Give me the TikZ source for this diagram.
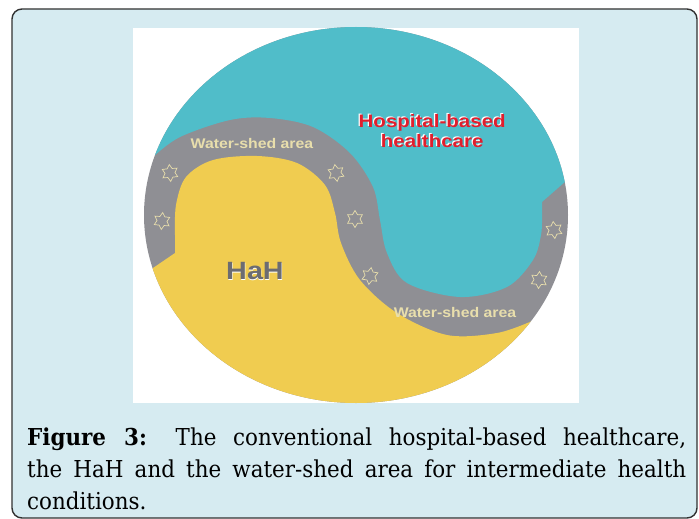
\documentclass[tikz,border=0pt]{standalone}
\usepackage{fontspec}
\setmainfont{DejaVu Serif}[FakeStretch=0.92]
\newfontfamily\labelfont{Liberation Sans}
\usetikzlibrary{shapes.geometric}
\definecolor{framebg}{RGB}{214,235,241}
\definecolor{frameline}{RGB}{50,50,50}
\definecolor{hteal}{RGB}{80,189,201}
\definecolor{hyellow}{RGB}{240,204,80}
\definecolor{hgrey}{RGB}{143,143,148}
\definecolor{cream}{RGB}{232,222,172}
\definecolor{hred}{RGB}{225,30,45}
\definecolor{hahgrey}{RGB}{108,108,113}
\begin{document}
\begin{tikzpicture}[x=1pt,y=-1pt,
  framebox/.style={draw=frameline,fill=framebg,line width=1.4pt,rounded corners=10pt},
  starsh/.style={star,star points=6,star point ratio=1.7,minimum size=17pt,inner sep=0pt,draw=cream,line width=0.7pt},
  wlabel/.style={font=\labelfont\bfseries\fontsize{14}{14}\selectfont,text=cream,xscale=1.13,inner sep=0pt},
  hosplabel/.style={font=\labelfont\bfseries\fontsize{18}{20}\selectfont,align=center,xscale=1.14,inner sep=0pt},
  hahlabel/.style={font=\labelfont\bfseries\fontsize{25}{25}\selectfont,xscale=1.15,inner sep=0pt}]
\useasboundingbox (0,0) rectangle (699,519);
\fill[white] (0,0) rectangle (699,519);
\draw[framebox] (12,9) rectangle (697,518);
\fill[white] (133,28) rectangle (579,403);
\fill[hgrey] (356,215) ellipse [x radius=212, y radius=188];
\begin{scope}
\clip (356,215) ellipse [x radius=212, y radius=188];
\fill[hteal] (110,190) -- plot[smooth,tension=0.55] coordinates {(153,157) (180,137) (230,120) (270,118) (313,127) (350,153) (373,187) (380,220) (387,253) (407,283) (460,297) (507,287) (533,260) (541,235) (542,215)} -- (542,202) -- (566,181) -- (620,140) -- (620,0) -- (110,0) -- cycle;
\fill[hyellow] (100,300) -- (153,268) -- (175,253) -- plot[smooth,tension=0.55] coordinates {(175,235) (176,205) (186,177) (213,160) (257,156) (297,163) (325,185) (335,213) (341,243) (360,280) (397,313) (447,335) (497,333) (532,321)} -- (620,300) -- (620,450) -- (100,450) -- cycle;
\end{scope}
\node[starsh,rotate=5] (s1) at (170,173) {};
\node[starsh,rotate=-5] (s2) at (162,221) {};
\node[starsh,rotate=8] (s3) at (336,173) {};
\node[starsh,rotate=0] (s4) at (355,219) {};
\node[starsh,rotate=-8] (s5) at (370,276) {};
\node[starsh,rotate=6] (s6) at (554,230) {};
\node[starsh,rotate=-4] (s7) at (539,280) {};
\node[wlabel] (w1) at (252,143) {Water-shed area};
\node[wlabel] (w2) at (455,312) {Water-shed area};
\node[hosplabel,text=white] (hospw) at (431,130) {Hospital-based\\healthcare};
\node[hosplabel,text=hred] (hosp) at (432.2,131) {Hospital-based\\healthcare};
\node[hahlabel,text=white] (hahw) at (255.3,272.5) {HaH};
\node[hahlabel,text=hahgrey] (hah) at (255,271) {HaH};
\node[anchor=base west,inner sep=0pt] (cap) at (27,445) {\parbox[t]{659pt}{\fontsize{23.3}{32}\selectfont\hyphenpenalty=10000 \textbf{Figure 3:} The conventional hospital-based healthcare,\linebreak the HaH and the water-shed area for intermediate health\linebreak conditions.}};
\end{tikzpicture}
\end{document}
